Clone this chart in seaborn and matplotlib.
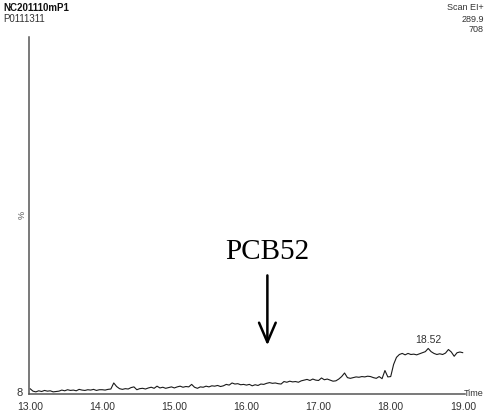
import numpy as np
import pandas as pd
import matplotlib
matplotlib.use("Agg")
import matplotlib.pyplot as plt
import seaborn as sns

# Chromatogram trace: retention time (min) on a 0.04 min grid, relative intensity (%)
t_start, t_step = 13.00, 0.04
intensity = [
    # 13.00 - 13.96
    1.2, 0.5, 0.3, 0.6, 0.4, 0.7, 0.5, 0.6, 0.3, 0.4, 0.5, 0.8, 0.6, 0.9, 0.7, 0.8, 0.6, 1.0, 0.8, 0.7, 0.9, 0.8, 1.0, 0.7, 0.9,
    # 14.00 - 14.96
    0.9, 0.8, 1.0, 1.1, 2.8, 1.8, 1.2, 1.0, 1.2, 1.1, 1.5, 1.7, 0.9, 1.2, 1.3, 1.1, 1.4, 1.6, 1.3, 1.9, 1.4, 1.6, 1.3, 1.5, 1.7,
    # 15.00 - 15.96
    1.4, 1.7, 1.9, 1.6, 1.8, 1.7, 2.4, 1.6, 1.3, 1.7, 1.6, 1.9, 1.7, 2.0, 1.9, 2.1, 1.8, 2.0, 2.4, 2.2, 2.8, 2.5, 2.6, 2.3, 2.4,
    # 16.00 - 16.96
    2.2, 2.4, 2.0, 2.3, 2.1, 2.5, 2.4, 2.7, 2.9, 2.7, 2.8, 2.6, 2.5, 3.2, 3.0, 3.3, 3.1, 3.2, 3.0, 3.4, 3.6, 3.8, 3.5, 3.9, 3.6,
    # 17.00 - 17.96
    3.5, 4.2, 3.7, 3.9, 3.6, 3.3, 3.4, 3.9, 4.6, 5.6, 4.3, 4.1, 4.3, 4.5, 4.4, 4.6, 4.5, 4.7, 4.6, 4.3, 4.1, 4.6, 4.0, 6.3, 4.5,
    # 18.00 - 18.96
    4.6, 8.0, 10.0, 10.8, 11.1, 10.7, 11.1, 10.8, 10.9, 10.7, 11.0, 11.3, 11.6, 12.5, 11.6, 11.1, 10.8, 11.0, 10.8, 11.2, 12.2, 11.5, 10.3, 11.3, 11.5,
    # 19.00
    11.3,
]
times = np.round(t_start + t_step * np.arange(len(intensity)), 2)
trace = pd.DataFrame({"time": times, "pct": intensity})

peak_time = 18.52
peak_pct = intensity[int(round((peak_time - t_start) / t_step))]

compound = "PCB52"
compound_time = 16.29

x_major = [13.00, 14.00, 15.00, 16.00, 17.00, 18.00, 19.00]
x_major_labels = ["13.00", "14.00", "15.00", "16.00", "17.00", "18.00", "19.00"]

sns.set_style("white")
plt.rcParams["font.family"] = ["Liberation Sans", "DejaVu Sans"]

fig = plt.figure(figsize=(4.85, 4.11), dpi=100)
ax = fig.add_axes([29 / 485, 17 / 411, (465 - 29) / 485, (394 - 37) / 411])

sns.lineplot(data=trace, x="time", y="pct", ax=ax, color="#1a1a1a",
             linewidth=0.8, estimator=None, sort=False)

ax.set_xlim(12.985, 19.03)
ax.set_ylim(-0.3, 100)
ax.set_xlabel("")
ax.set_ylabel("")

for side in ("top", "right"):
    ax.spines[side].set_visible(False)
for side in ("left", "bottom"):
    ax.spines[side].set_color("#555555")
    ax.spines[side].set_linewidth(1.1)

ax.set_xticks(x_major)
ax.set_xticklabels(x_major_labels, fontsize=7.5, color="#333333")
ax.set_xticks(np.round(np.arange(13.0, 19.01, 0.1), 2), minor=True)
ax.tick_params(axis="x", which="major", direction="out", length=5, width=0.8,
               color="#444444", pad=1)
ax.tick_params(axis="x", which="minor", direction="out", length=3, width=0.7,
               color="#444444")
ax.set_yticks(np.linspace(2.5, 100, 10))
ax.set_yticklabels([])
ax.tick_params(axis="y", direction="out", length=3, width=0.8, color="#444444")

# header text
fig.text(3 / 485, 1 - 8 / 411, "NC201110mP1", fontsize=7, fontweight="bold",
         va="center", ha="left", color="#111111")
fig.text(3 / 485, 1 - 19 / 411, "P0111311", fontsize=7, va="center",
         ha="left", color="#333333")
fig.text(484 / 485, 1 - 8 / 411, "Scan EI+", fontsize=6.5, va="center",
         ha="right", color="#333333")
fig.text(484 / 485, 1 - 19 / 411, "289.9", fontsize=6.5, va="center",
         ha="right", color="#333333")
fig.text(484 / 485, 1 - 29 / 411, "708", fontsize=6.5, va="center",
         ha="right", color="#333333")

# axis annotations
fig.text(22 / 485, 1 - 215 / 411, "%", fontsize=6.5, rotation=90,
         va="center", ha="center", color="#555555")
fig.text(20 / 485, 1 - 393 / 411, "8", fontsize=8, va="center",
         ha="center", color="#333333")
fig.text(484 / 485, 1 - 393 / 411, "Time", fontsize=6.5, va="center",
         ha="right", color="#333333")

# peak label
ax.text(peak_time, peak_pct + 1.0, f"{peak_time:.2f}", fontsize=7.5,
        ha="center", va="bottom", color="#333333")

# compound marker
ax.annotate("", xy=(compound_time, 12.6), xytext=(compound_time, 33.8),
            arrowprops=dict(arrowstyle="->,head_length=1.4,head_width=0.6",
                            color="black", lw=1.8))
ax.text(compound_time, 39.6, compound, fontsize=21, ha="center", va="center",
        family=["Liberation Serif", "DejaVu Serif"], color="black")

fig.savefig("out.png", dpi=100)
